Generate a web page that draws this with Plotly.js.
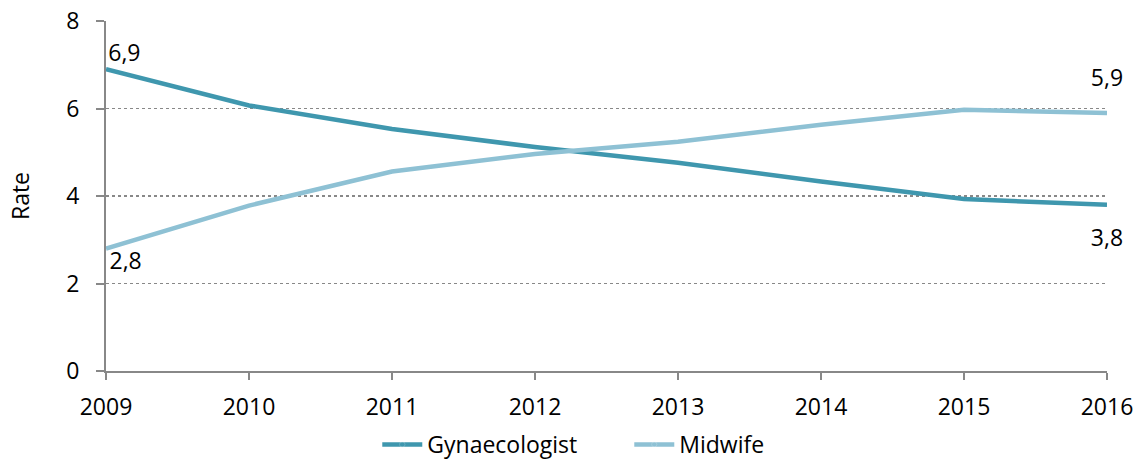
<!DOCTYPE html>
<html>
<head>
<meta charset="utf-8">
<script src="https://cdn.plot.ly/plotly-3.0.1.min.js"></script>
<style>html,body{margin:0;padding:0;background:#fff;}#chart{width:1140px;height:462px;}</style>
</head>
<body>
<div id="chart"></div>
<script>
const years = [2009, 2010, 2011, 2012, 2013, 2014, 2015, 2016];
const gynaecologist = [6.9, 6.07, 5.53, 5.12, 4.76, 4.33, 3.93, 3.8];
const midwife = [2.8, 3.78, 4.56, 4.96, 5.24, 5.63, 5.97, 5.9];
const seriesNames = ['Gynaecologist', 'Midwife'];
const yTicks = [0, 2, 4, 6, 8];

function endLabels(vals) {
  return vals.map((v, i) => (i === 0 || i === vals.length - 1) ? v.toFixed(1).replace('.', ',') : '');
}
const font = 'Open Sans, sans-serif';
const last = years.length - 1;

const traces = [
  {
    x: years, y: gynaecologist, name: seriesNames[0], type: 'scatter', mode: 'lines+markers+text',
    line: {color: '#3F97AE', width: 4.5},
    marker: {opacity: 0, size: years.map((_, i) => i === 0 ? 2 : (i === last ? 36 : 1))},
    text: endLabels(gynaecologist),
    textposition: years.map((_, i) => i === 0 ? 'top right' : 'bottom center'),
    textfont: {family: font, size: 23, color: '#000'},
    cliponaxis: false
  },
  {
    x: years, y: midwife, name: seriesNames[1], type: 'scatter', mode: 'lines+markers+text',
    line: {color: '#8EC1D4', width: 4.5},
    marker: {opacity: 0, size: years.map((_, i) => i === 0 ? 4 : (i === last ? 32 : 1))},
    text: endLabels(midwife),
    textposition: years.map((_, i) => i === 0 ? 'bottom right' : 'top center'),
    textfont: {family: font, size: 23, color: '#000'},
    cliponaxis: false
  }
];

const layout = {
  width: 1140, height: 462,
  margin: {l: 106, r: 33, t: 21, b: 91, autoexpand: false},
  paper_bgcolor: '#fff', plot_bgcolor: '#fff',
  font: {family: font, size: 23, color: '#000'},
  showlegend: true,
  legend: {orientation: 'h', x: 0.552, xanchor: 'center', xref: 'container', y: 0.038, yanchor: 'middle', yref: 'container',
           font: {family: font, size: 23, color: '#000'}, itemwidth: 40, tracegroupgap: 0, entrywidth: 197},
  xaxis: {
    range: [2009, 2016], tickvals: years, ticktext: years.map(String),
    showgrid: false, zeroline: false, showline: true, linecolor: '#888', linewidth: 2,
    ticks: 'outside', ticklen: 7, tickcolor: '#888', tickwidth: 2,
    ticklabelstandoff: 7, automargin: false,
    tickfont: {family: font, size: 23, color: '#000'}
  },
  yaxis: {
    range: [0, 8], tickvals: yTicks, ticktext: yTicks.map(String),
    showgrid: true, gridcolor: '#888', griddash: 'dot', gridwidth: 1.5,
    zeroline: false, showline: true, linecolor: '#888', linewidth: 2,
    ticks: 'outside', ticklen: 8, tickcolor: '#888', tickwidth: 2,
    ticklabelstandoff: 12, automargin: false,
    tickfont: {family: font, size: 23, color: '#000'},
    title: {text: 'Rate', font: {family: font, size: 23, color: '#000'}, standoff: 30}
  }
};

Plotly.newPlot('chart', traces, layout, {displayModeBar: false, staticPlot: true});
</script>
</body>
</html>
